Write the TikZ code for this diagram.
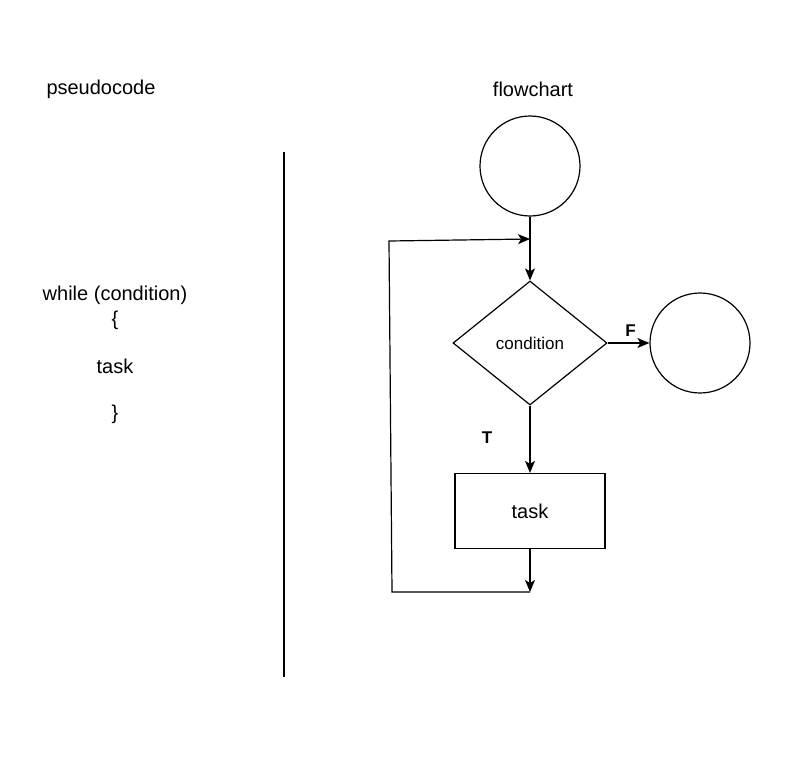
\documentclass[tikz,border=0pt]{standalone}
\usepackage{fontspec}
\setmainfont{Liberation Sans}
\usetikzlibrary{positioning, arrows.meta, shapes.geometric}

\begin{document}
\begin{tikzpicture}[x=1pt, y=-1pt, line width=1.2pt,
    arr/.style = {-{Stealth[length=12pt, width=10pt, inset=3pt]}},
    terminal/.style = {circle, draw, minimum size=100pt, inner sep=0pt},
    decision/.style = {diamond, draw, minimum width=154pt, minimum height=124pt, inner sep=0pt, font=\fontsize{17}{20}\selectfont},
    process/.style = {rectangle, draw, minimum width=150pt, minimum height=75pt, font=\fontsize{20}{24}\selectfont},
    label/.style = {font=\fontsize{20}{24}\selectfont},
    branch/.style = {font=\bfseries\fontsize{17}{20}\selectfont}]
    \useasboundingbox (0,0) rectangle (791,757);

    % Titles
    \node[label] (pseudo) at (101,89) {pseudocode};
    \node[label] (flow) at (533,89) {flowchart};

    % Pseudocode
    \node[label] (while) at (115,295) {while (condition)};
    \node[label] (open) at (115,320) {\{};
    \node[label] (body) at (115,366) {task};
    \node[label] (close) at (115,414) {\}};

    % Divider
    \coordinate (divtop) at (284,152);
    \coordinate (divbot) at (284,677);
    \draw (divtop) -- (divbot);

    % Flowchart nodes
    \node[terminal] (start) at (530,166) {};
    \node[decision] (cond) at (530,343) {condition};
    \node[terminal] (stop) at (700,343) {};
    \node[process] (task) at (530,511) {task};

    % Loop points
    \coordinate (join) at (530,239);
    \coordinate (back) at (530,592);
    \coordinate (backleft) at (392,592);
    \coordinate (topleft) at (389,241);

    % Connectors
    \draw (start) -- (join);
    \draw[arr] (join) -- (cond.north);
    \draw[arr] (cond) -- node[branch, above, pos=0.55, yshift=3pt] {F} (stop);
    \draw[arr] (cond) -- (task);
    \node[branch] (t) at (487,438) {T};
    \draw[arr] (task) -- (back);
    \draw[arr] (back) -- (backleft) -- (topleft) -- (join);
\end{tikzpicture}
\end{document}
